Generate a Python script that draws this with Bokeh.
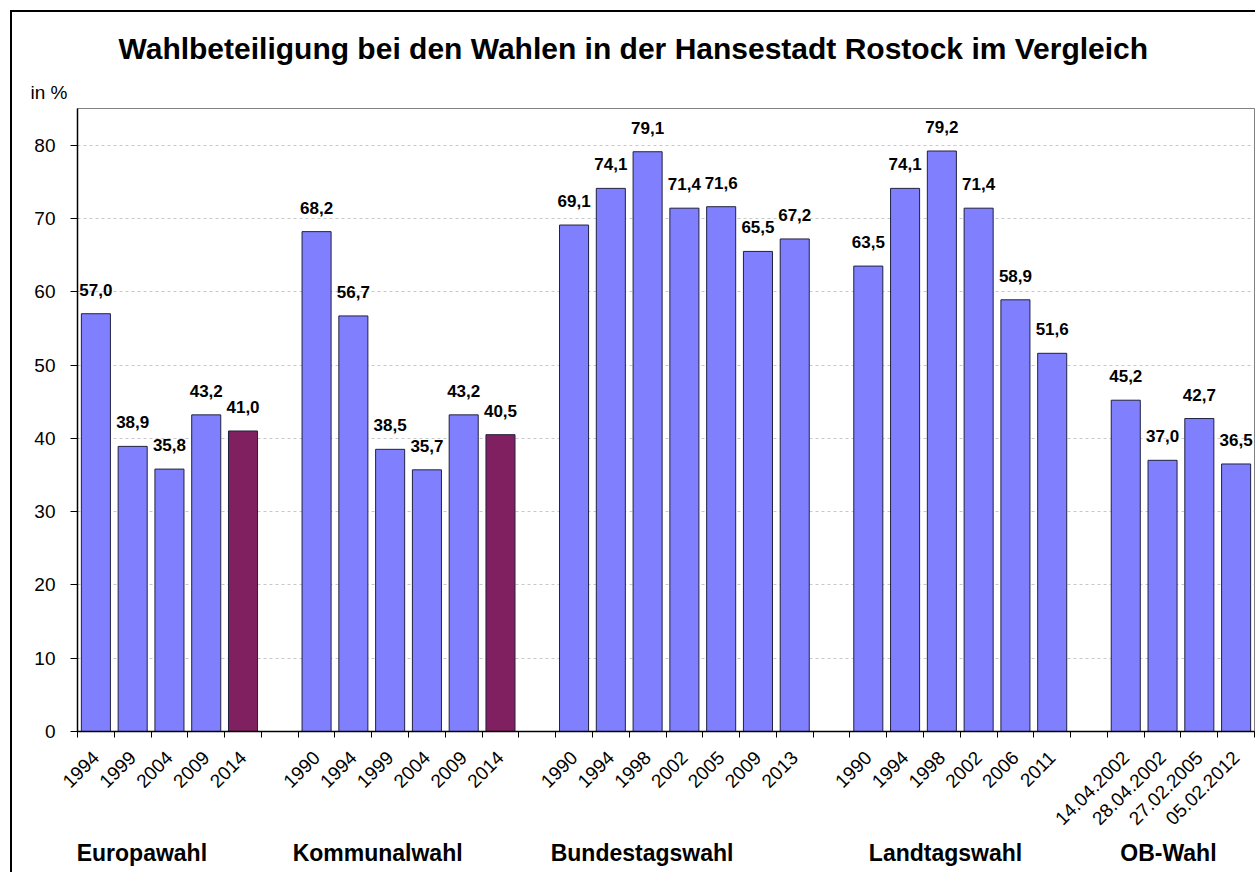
import math
from bokeh.plotting import figure
from bokeh.models import Range1d, FixedTicker, ColumnDataSource, Title, LinearAxis
from bokeh.core.properties import value
from bokeh.embed import file_html
from bokeh.resources import INLINE

# ---- data ----
title_text = "Wahlbeteiligung bei den Wahlen in der Hansestadt Rostock im Vergleich"
unit_text = "in %"
group_names = ["Europawahl", "Kommunalwahl", "Bundestagswahl", "Landtagswahl", "OB-Wahl"]

europa_labels = ["1994", "1999", "2004", "2009", "2014"]
europa_values = [57.0, 38.9, 35.8, 43.2, 41.0]

kommunal_labels = ["1990", "1994", "1999", "2004", "2009", "2014"]
kommunal_values = [68.2, 56.7, 38.5, 35.7, 43.2, 40.5]

bundestag_labels = ["1990", "1994", "1998", "2002", "2005", "2009", "2013"]
bundestag_values = [69.1, 74.1, 79.1, 71.4, 71.6, 65.5, 67.2]

landtag_labels = ["1990", "1994", "1998", "2002", "2006", "2011"]
landtag_values = [63.5, 74.1, 79.2, 71.4, 58.9, 51.6]

ob_labels = ["14.04.2002", "28.04.2002", "27.02.2005", "05.02.2012"]
ob_values = [45.2, 37.0, 42.7, 36.5]

highlight_label = "2014"           # latest elections drawn in purple
highlight_groups = ["Europawahl", "Kommunalwahl"]

y_ticks = [0, 10, 20, 30, 40, 50, 60, 70, 80]
y_max = 85

# ---- layout / style ----
FONT = "Liberation Sans"
BLUE = "#8080FF"
PURPLE = "#802060"
group_label_x = [1.75, 8.16, 15.35, 23.6, 29.66]   # caption positions (slot units)

groups = [
    (europa_labels, europa_values),
    (kommunal_labels, kommunal_values),
    (bundestag_labels, bundestag_values),
    (landtag_labels, landtag_values),
    (ob_labels, ob_values),
]

xs, tops, colors, texts, ticklabels = [], [], [], [], []
slot = 0
for gname, (labs, vals) in zip(group_names, groups):
    for lab, v in zip(labs, vals):
        xs.append(slot + 0.5)
        tops.append(v)
        colors.append(PURPLE if (lab == highlight_label and gname in highlight_groups) else BLUE)
        texts.append(f"{v:.1f}".replace(".", ","))
        ticklabels.append(lab)
        slot += 1
    slot += 1
n_slots = slot - 1

W, H = 1245, 862
frame_left, frame_right, frame_top, frame_bottom = 65, 3, 96, 143

p = figure(width=W, height=H, output_backend="svg", toolbar_location=None,
           x_range=Range1d(0, n_slots), y_range=Range1d(0, y_max),
           min_border_left=frame_left, min_border_right=frame_right,
           min_border_top=frame_top, min_border_bottom=frame_bottom,
           styles={"margin-left": "10px", "margin-top": "10px",
                   "border-left": "2px solid black", "border-top": "2px solid black"})
p.title = None
p.background_fill_color = "white"
p.border_fill_color = "white"
p.outline_line_color = "#808080"
p.outline_line_width = 1

src = ColumnDataSource(dict(x=xs, top=tops, color=colors, text=texts))
p.vbar(x="x", top="top", width=0.79, bottom=0, source=src,
       fill_color="color", line_color="#202040", line_width=1)
p.text(x="x", y="top", text="text", source=src, text_align="center",
       text_baseline="alphabetic", y_offset=-24,
       text_font=value(FONT), text_font_size="17px", text_font_style="bold",
       text_color="black")

# x axis (bar labels)
xa = p.xaxis[0]
xa.ticker = FixedTicker(ticks=xs, minor_ticks=list(range(n_slots + 1)))
xa.major_label_overrides = {x: lab for x, lab in zip(xs, ticklabels)}
xa.major_label_orientation = math.pi / 4
xa.major_tick_in = 0
xa.major_tick_out = 0
xa.minor_tick_in = 0
xa.minor_tick_out = 6
xa.minor_tick_line_color = "black"
xa.axis_line_color = "black"
xa.axis_line_width = 1.5
xa.major_label_text_font = FONT
xa.major_label_text_font_size = "19px"
xa.major_label_text_color = "black"
xa.major_label_standoff = 17

# second bottom axis (group captions)
ga = LinearAxis(ticker=FixedTicker(ticks=group_label_x, minor_ticks=[]))
ga.major_label_overrides = {x: g for x, g in zip(group_label_x, group_names)}
ga.axis_line_color = None
ga.major_tick_line_color = None
ga.minor_tick_line_color = None
ga.major_label_text_font = FONT
ga.major_label_text_font_size = "23px"
ga.major_label_text_font_style = "bold"
ga.major_label_text_color = "black"
ga.major_label_standoff = 0
p.add_layout(ga, "below")

# y axis
ya = p.yaxis[0]
ya.ticker = FixedTicker(ticks=y_ticks)
ya.major_tick_in = 0
ya.major_tick_out = 7
ya.minor_tick_line_color = None
ya.axis_line_color = "black"
ya.axis_line_width = 1.5
ya.major_tick_line_color = "black"
ya.major_label_text_font = FONT
ya.major_label_text_font_size = "19px"
ya.major_label_text_color = "black"
ya.major_label_standoff = 15

p.xgrid.grid_line_color = None
p.ygrid.grid_line_color = "#C8C8C8"
p.ygrid.grid_line_dash = "3 3"
p.ygrid.grid_line_width = 1

# unit label (nearest to the frame) and main title above it
p.add_layout(Title(text=unit_text, align="left", offset=-47, standoff=12,
                   text_font=FONT, text_font_size="19px", text_font_style="normal",
                   text_color="black"), "above")
p.add_layout(Title(text=title_text, align="left", offset=41, standoff=18,
                   text_font=FONT, text_font_size="30px", text_font_style="bold",
                   text_color="black"), "above")

open("out.html", "w").write(file_html(p, INLINE))
